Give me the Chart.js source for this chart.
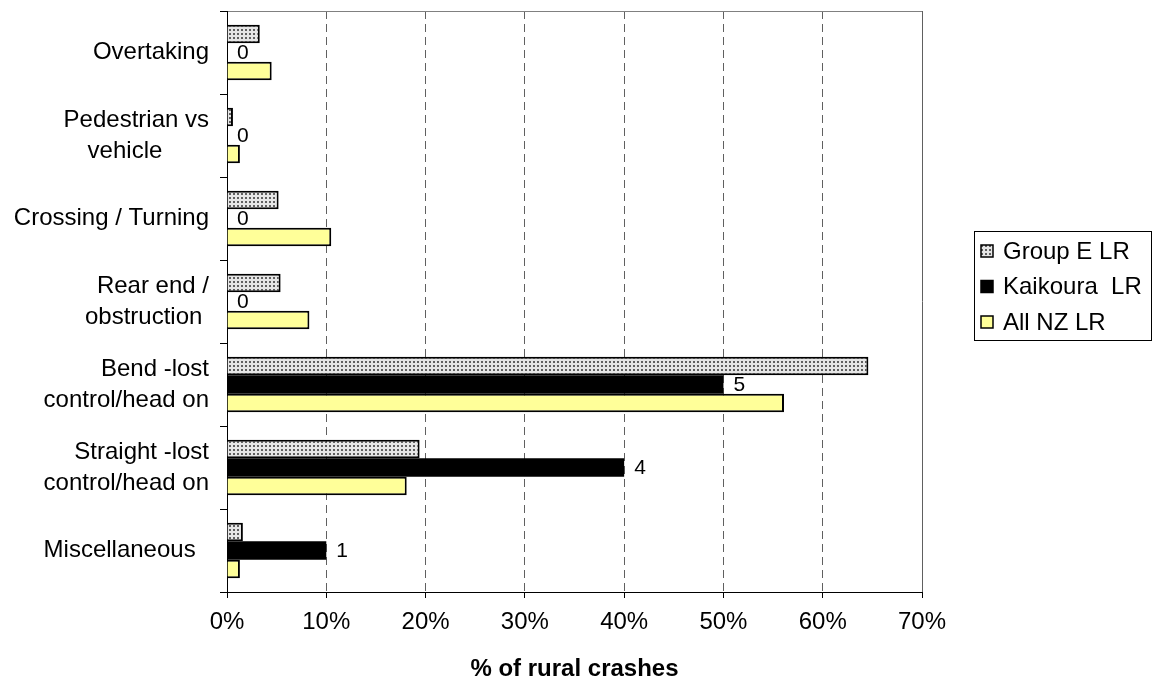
<!DOCTYPE html>
<html><head><meta charset="utf-8">
<script src="https://cdn.jsdelivr.net/npm/chart.js@4.4.1/dist/chart.umd.min.js"></script>
<style>html,body{margin:0;padding:0;background:#fff;} canvas{display:block;}</style>
</head><body>
<canvas id="c" width="1153" height="684"></canvas>
<script>
// ---- data ----
const categories = [
  ['Overtaking'],
  ['Pedestrian vs', 'vehicle       '],
  ['Crossing / Turning'],
  ['Rear end /', 'obstruction '],
  ['Bend -lost', 'control/head on'],
  ['Straight -lost', 'control/head on'],
  ['Miscellaneous  ']
];
const seriesNames = ['Group E LR', 'Kaikoura  LR', 'All NZ LR'];
const groupE = [3.3, 0.6, 5.2, 5.4, 64.6, 19.4, 1.6];
const kaikoura = [0, 0, 0, 0, 50, 40, 10];
const kaikouraCounts = [0, 0, 0, 0, 5, 4, 1];
const allNZ = [4.5, 1.3, 10.5, 8.3, 56.1, 18.1, 1.3];
const xTickLabels = ['0%', '10%', '20%', '30%', '40%', '50%', '60%', '70%'];
const xAxisTitle = '% of rural crashes';

// ---- styles ----
const FONT = '"Liberation Sans", Arial, sans-serif';
Chart.defaults.font.family = FONT;
Chart.defaults.font.size = 24;
Chart.defaults.color = '#000';

function makePattern() {
  const p = document.createElement('canvas');
  p.width = 4; p.height = 4;
  const g = p.getContext('2d');
  g.fillStyle = '#e6e6e6'; g.fillRect(0, 0, 4, 4);
  g.fillStyle = '#606060'; g.fillRect(1, 1, 2, 2);
  return document.getElementById('c').getContext('2d').createPattern(p, 'repeat');
}
const dotted = makePattern();

const labelPlugin = {
  id: 'countLabels',
  afterDatasetsDraw(chart) {
    const ctx = chart.ctx;
    const meta = chart.getDatasetMeta(1);
    ctx.save();
    ctx.font = '21px ' + FONT;
    ctx.textAlign = 'left';
    ctx.textBaseline = 'middle';
    meta.data.forEach((bar, i) => {
      const t = String(kaikouraCounts[i]);
      const w = ctx.measureText(t).width;
      const x = bar.x + 10;
      ctx.fillStyle = '#fff';
      ctx.fillRect(x - 1, bar.y - 8, w + 2, 17);
      ctx.fillStyle = '#000';
      ctx.fillText(t, x, bar.y + 1);
    });
    ctx.restore();
  }
};

const legendPlugin = {
  id: 'boxLegend',
  afterDraw(chart) {
    const ctx = chart.ctx;
    const box = {x: 974.5, y: 231.5, w: 177, h: 109};
    ctx.save();
    ctx.strokeStyle = '#000';
    ctx.lineWidth = 1;
    ctx.strokeRect(box.x, box.y, box.w, box.h);
    ctx.font = '24px ' + FONT;
    ctx.textAlign = 'left';
    ctx.textBaseline = 'middle';
    chart.data.datasets.forEach((ds, i) => {
      const cy = 251 + i * 35.5;
      ctx.fillStyle = ds.backgroundColor;
      ctx.fillRect(981, cy - 6, 12, 12);
      ctx.strokeStyle = '#000';
      ctx.lineWidth = 1.5;
      ctx.strokeRect(981, cy - 6, 12, 12);
      ctx.fillStyle = '#000';
      ctx.fillText(ds.label, 1003, cy + 1);
    });
    ctx.restore();
  }
};

new Chart(document.getElementById('c'), {
  type: 'bar',
  data: {
    labels: categories,
    datasets: [
      {label: seriesNames[0], data: groupE, backgroundColor: dotted, borderColor: '#000', borderWidth: 2},
      {label: seriesNames[1], data: kaikoura, backgroundColor: '#000', borderWidth: 0},
      {label: seriesNames[2], data: allNZ, backgroundColor: '#ffff99', borderColor: '#000', borderWidth: 2}
    ]
  },
  options: {
    indexAxis: 'y',
    responsive: false,
    animation: false,
    devicePixelRatio: 1,
    categoryPercentage: 0.67,
    barPercentage: 1.0,
    layout: {padding: {top: 11, right: 231, left: 0, bottom: 0}},
    plugins: {legend: {display: false}, tooltip: {enabled: false}},
    scales: {
      x: {
        type: 'linear', min: 0, max: 70,
        ticks: {stepSize: 10, padding: 10, maxRotation: 0,
          callback: (v, i) => xTickLabels[i]},
        grid: {color: '#606060', lineWidth: 1, tickLength: 6, tickColor: '#000'},
        border: {display: true, color: '#000', width: 1,
          dash: (ctx) => (ctx.tick && ctx.tick.value === 70) ? [] : [8, 5]},
        title: {display: true, text: xAxisTitle, font: {size: 24, weight: 'bold'}, padding: {top: 4, bottom: 0}},
        afterFit: (s) => { s.height = 92; s.paddingLeft = 0; s.paddingRight = 0; }
      },
      y: {
        type: 'category',
        ticks: {padding: 11, autoSkip: false, font: {size: 24, lineHeight: 1.3}},
        grid: {offset: true, tickLength: 7, tickColor: '#000',
          color: (ctx) => ctx.index === 0 ? '#808080' : 'rgba(0,0,0,0)'},
        border: {display: true, color: '#000', width: 1},
        afterFit: (s) => { s.width = 227; s.paddingTop = 0; s.paddingBottom = 0; }
      }
    }
  },
  plugins: [labelPlugin, legendPlugin]
});
</script>
</body></html>
